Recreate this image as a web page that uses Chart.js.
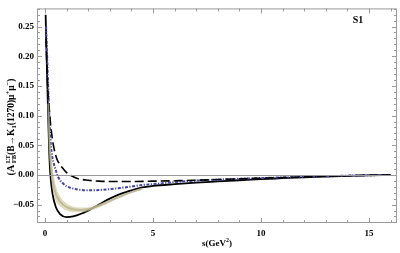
<!DOCTYPE html>
<html><head><meta charset="utf-8">
<script src="https://cdn.jsdelivr.net/npm/chart.js@4/dist/chart.umd.min.js"></script>
<style>html,body{margin:0;padding:0;background:#fff}#wrap{width:400px;height:253px}</style>
</head><body><div id="wrap"><canvas id="c" width="400" height="253"></canvas></div>
<script>
// s values (GeV^2) and curve values
const sSolid = [0.03,0.06,0.1,0.15,0.2,0.25,0.35,0.5,0.7,1.0,1.3,1.7,2.1,2.5,3.0,3.5,4.0,4.5,5,6,7,8,9,10,11,12,13,14,15,16];
const solid  = [0.27,0.22,0.165,0.095,0.035,0.0,-0.032,-0.054,-0.066,-0.071,-0.070,-0.065,-0.058,-0.050,-0.040,-0.032,-0.026,-0.021,-0.0185,-0.0155,-0.013,-0.011,-0.009,-0.007,-0.0055,-0.004,-0.0028,-0.0017,-0.0008,0.0];

const sDashed = [0.05,0.1,0.2,0.3,0.4,0.55,0.7,0.85,1.0,1.2,1.5,2,2.5,3,4,5,6,7,8,9,10,11,12,13,14,15,16];
const dashed  = [0.23,0.17,0.11,0.072,0.048,0.027,0.017,0.01,0.004,-0.001,-0.006,-0.009,-0.0105,-0.011,-0.011,-0.0105,-0.0098,-0.009,-0.0078,-0.0066,-0.0055,-0.0044,-0.0033,-0.0023,-0.0014,-0.0006,0.0];

const sBlue = [0.05,0.1,0.15,0.2,0.25,0.3,0.4,0.5,0.6,0.8,1.0,1.3,1.6,2.0,2.5,3,3.5,4,4.5,5,6,7,8,9,10,11,12,13,14,15,16];
const blue  = [0.25,0.2,0.145,0.1,0.062,0.04,0.02,0.008,-0.003,-0.013,-0.019,-0.023,-0.025,-0.026,-0.0255,-0.024,-0.022,-0.0195,-0.017,-0.0155,-0.012,-0.0095,-0.0078,-0.0065,-0.0053,-0.0042,-0.0032,-0.0022,-0.0013,-0.0005,0.0];

const sBand   = [0.15,0.2,0.3,0.4,0.5,0.7,1.0,1.3,1.7,2.1,2.5,3.0,3.5,4.0,4.5];
const bandMid = [0.12,0.06,0.008,-0.018,-0.032,-0.045,-0.054,-0.058,-0.059,-0.057,-0.052,-0.044,-0.036,-0.029,-0.023];
const bandHi  = [0.15,0.085,0.03,0.0,-0.018,-0.036,-0.048,-0.053,-0.055,-0.054,-0.049,-0.042,-0.034,-0.028,-0.022];
const bandLo  = [0.09,0.035,-0.012,-0.033,-0.044,-0.053,-0.060,-0.063,-0.063,-0.060,-0.055,-0.046,-0.038,-0.030,-0.024];

const xTicks = [0,5,10,15];
const yTicks = [-0.05,0.00,0.05,0.10,0.15,0.20,0.25];
const label = "S1";

const pts = (xs, ys) => xs.map((x,i)=>({x:x,y:ys[i]}));
const base = {pointRadius:0, cubicInterpolationMode:'monotone', fill:false};
const F = '"Liberation Serif"';

const frame = {
  id:'frame',
  afterDatasetsDraw(chart){
    const {ctx, chartArea:a, scales:{x,y}} = chart;
    ctx.save();
    ctx.strokeStyle='#9a9a9a'; ctx.lineWidth=1;
    const y0 = Math.round(y.getPixelForValue(0))+0.5;
    ctx.beginPath(); ctx.moveTo(a.left,y0); ctx.lineTo(a.right,y0); ctx.stroke();
    ctx.strokeRect(a.left+0.5,a.top+0.5,a.right-a.left-1,a.bottom-a.top-1);
    ctx.beginPath();
    for(let v=0; v<=16; v+=1){
      const p=Math.round(x.getPixelForValue(v))+0.5; const L=(v%5===0)?5:3;
      ctx.moveTo(p,a.bottom); ctx.lineTo(p,a.bottom-L);
      ctx.moveTo(p,a.top); ctx.lineTo(p,a.top+L);
    }
    for(let k=-8;k<=28;k++){
      const v=k/100; const p=Math.round(y.getPixelForValue(v))+0.5; const L=(k%5===0)?5:3;
      ctx.moveTo(a.left,p); ctx.lineTo(a.left+L,p);
      ctx.moveTo(a.right,p); ctx.lineTo(a.right-L,p);
    }
    ctx.stroke();
    ctx.fillStyle='#000'; ctx.font='bold 10px '+F; ctx.textAlign='center'; ctx.textBaseline='middle';
    ctx.fillText(label, 358, 20);
    // x title
    const cx=(a.left+a.right)/2;
    ctx.textAlign='left'; ctx.textBaseline='alphabetic';
    const xparts=[['s(GeV',9,0],['2',6,-4],[')',9,0]];
    let xw=0; for(const p of xparts){ctx.font='bold '+p[1]+'px '+F; xw+=ctx.measureText(p[0]).width;}
    let sx=cx-xw/2; const by=246;
    for(const p of xparts){ctx.font='bold '+p[1]+'px '+F; ctx.fillText(p[0],sx,by+p[2]); sx+=ctx.measureText(p[0]).width;}
    // y title rotated
    ctx.translate(11,127); ctx.rotate(-Math.PI/2);
    const parts=[['(A',10,0,1],[' LT',6.5,-4,0],[' FB',6.5,2,1],['(B\u2192K',9.5,0,1],['1',6.5,2,1],['(1270)\u03bc',9.5,0,1],['+',6.5,-4,1],['\u03bc',9.5,0,1],['\u2212',6.5,-4,1],[')',9.5,0,1]];
    const ws=parts.map(p=>{ctx.font='bold '+p[1]+'px '+F; return ctx.measureText(p[0]).width;});
    let tw=0; parts.forEach((p,i)=>{ if(p[3]) tw+=ws[i]; });
    let px=-tw/2;
    parts.forEach((p,i)=>{
      ctx.font='bold '+p[1]+'px '+F;
      ctx.fillText(p[0],px,3+p[2]);
      if(p[3]) px+=ws[i];
    });
    ctx.restore();
  }
};

new Chart(document.getElementById('c'),{
  type:'line',
  data:{datasets:[
    {...base, data:pts(sBand,bandLo), borderWidth:0, borderColor:'rgba(0,0,0,0)'},
    {...base, data:pts(sBand,bandHi), borderWidth:0, borderColor:'rgba(0,0,0,0)', fill:'-1', backgroundColor:'rgba(205,196,150,0.6)'},
    {...base, data:pts(sBand,bandMid), borderWidth:2, borderColor:'rgba(150,148,130,0.75)'},
    {...base, data:pts(sDashed,dashed), borderWidth:1.6, borderColor:'#000', borderDash:[9,4]},
    {...base, data:pts(sBlue,blue), borderWidth:2, borderColor:'#4343ad', borderDash:[3,1.5,1.2,1.5]},
    {...base, data:pts(sSolid,solid), borderWidth:1.8, borderColor:'#000'}
  ]},
  options:{
    responsive:false, animation:false, devicePixelRatio:1,
    layout:{padding:{top:1,right:3,left:0,bottom:0}},
    plugins:{legend:{display:false},tooltip:{enabled:false}},
    scales:{
      x:{type:'linear', min:-0.37, max:16.3,
        afterBuildTicks:(s)=>{s.ticks=xTicks.map(v=>({value:v}));},
        afterFit:(s)=>{s.height=30;},
        grid:{display:false, drawTicks:false}, border:{display:false},
        ticks:{padding:5, color:'#000', font:{family:'Liberation Serif',size:9,weight:'bold'}, maxRotation:0,
          callback:(v)=>String(v)}},
      y:{type:'linear', min:-0.081, max:0.2806,
        afterBuildTicks:(s)=>{s.ticks=yTicks.map(v=>({value:v}));},
        afterFit:(s)=>{s.width=37;},
        grid:{display:false, drawTicks:false}, border:{display:false},
        ticks:{padding:3, color:'#000', font:{family:'Liberation Serif',size:9,weight:'bold'},
          callback:(v)=>(v<0?'\u2212':'')+Math.abs(v).toFixed(2)}}
    }
  },
  plugins:[frame]
});
</script></body></html>
